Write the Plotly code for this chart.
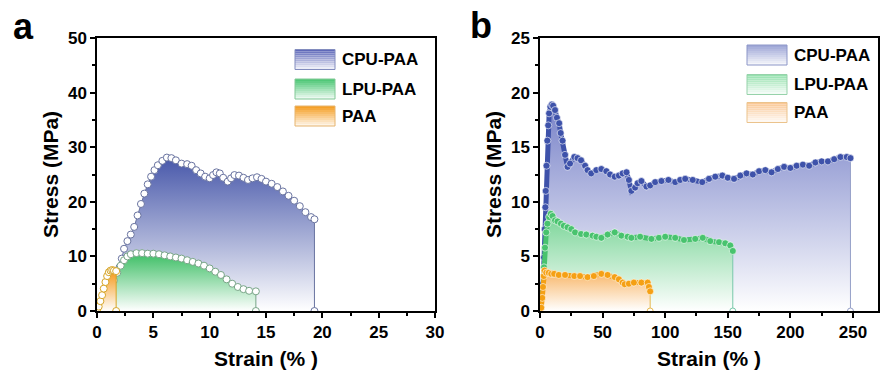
import plotly.graph_objects as go

W, H = 881, 374

names = ["CPU-PAA", "LPU-PAA", "PAA"]

# ---------------- Panel a data (strain %, stress MPa) ----------------
a_cpu_x = [0, 0.4, 0.8, 1.2, 1.6, 2.0, 2.2, 2.4, 2.7, 3.0, 3.3, 3.6, 3.9, 4.2, 4.5, 4.8, 5.1, 5.4, 5.8, 6.2,
           6.6, 7.0, 7.5, 8.0, 8.4, 8.8, 9.2, 9.6, 10.0, 10.3, 10.6, 10.9, 11.2, 11.6, 11.9, 12.2, 12.6, 13.0,
           13.4, 13.8, 14.2, 14.6, 15.0, 15.5, 16.0, 16.5, 17.0, 17.5, 18.0, 18.5, 19.0, 19.3, 19.3]
a_cpu_y = [0, 1.2, 2.8, 4.6, 6.5, 8.0, 9.6, 11.4, 12.8, 14.0, 15.4, 17.5, 19.6, 21.5, 23.2, 24.6, 25.8, 26.7, 27.5, 28.1,
           28.0, 27.6, 27.0, 26.9, 26.6, 25.8, 25.2, 24.6, 24.3, 24.9, 25.4, 25.2, 24.4, 23.7, 24.3, 24.9, 24.8, 24.4,
           24.0, 24.3, 24.5, 24.2, 23.7, 23.3, 22.7, 21.9, 21.1, 20.2, 19.2, 18.1, 17.2, 16.8, 0]

a_lpu_x = [0, 0.5, 1.0, 1.5, 1.8, 2.1, 2.4, 2.7, 3.0, 3.5, 4.0, 4.5, 5.0, 5.5, 6.0, 6.5, 7.0, 7.5, 8.0, 8.5,
           9.0, 9.5, 10.0, 10.5, 11.0, 11.5, 12.0, 12.5, 13.0, 13.5, 14.1, 14.1]
a_lpu_y = [0, 1.5, 3.5, 5.6, 7.0, 8.3, 9.3, 10.0, 10.4, 10.6, 10.6, 10.5, 10.5, 10.4, 10.2, 10.0, 9.8, 9.6, 9.3, 9.0,
           8.7, 8.3, 7.8, 7.2, 6.6, 5.8, 5.0, 4.4, 4.0, 3.7, 3.6, 0]

a_paa_x = [0, 0.15, 0.3, 0.45, 0.6, 0.75, 0.9, 1.05, 1.2, 1.35, 1.5, 1.7, 1.7]
a_paa_y = [0, 0.8, 1.8, 2.9, 4.1, 5.3, 6.4, 7.1, 7.4, 7.5, 7.4, 7.3, 0]

# ---------------- Panel b data ----------------
b_cpu_x = [0, 1.5, 2.5, 3.2, 3.8, 4.3, 4.6, 5.2, 5.9, 6.6, 7.3, 8.3, 9.5, 10.5, 12, 13.5, 15.3, 16.5, 18, 20,
           22, 24, 27.4, 30, 32.8, 36, 38, 40.9, 45, 49, 53, 56, 59.7, 63, 66, 69.1, 71, 73, 76, 78, 81, 85, 88,
           92, 97, 102.6, 108, 112, 116, 122, 129.6, 135, 140, 145.7, 150, 155, 160, 165, 170, 175, 180, 185,
           190, 195, 200, 205, 210, 215, 220, 225, 230, 235, 240, 245, 248, 248]
b_cpu_y = [0, 0.5, 2.5, 4.9, 7.5, 9.5, 11.0, 13.3, 15.6, 17.0, 18.1, 18.7, 18.9, 18.8, 18.4, 17.7, 17.2, 16.3, 15.6, 14.3,
           13.2, 13.5, 14.1, 14.0, 13.8, 13.3, 12.9, 12.6, 12.9, 13.0, 12.8, 12.5, 12.3, 12.4, 12.6, 12.7, 12.0, 11.0, 11.3, 11.7, 11.9, 11.4, 11.5,
           11.8, 11.9, 12.0, 11.8, 12.0, 12.1, 12.0, 11.8, 12.1, 12.3, 12.4, 12.2, 12.1, 12.4, 12.6, 12.5, 12.8, 12.9, 12.7,
           13.0, 13.2, 13.1, 13.3, 13.4, 13.3, 13.6, 13.7, 13.7, 13.9, 14.1, 14.1, 14.0, 0]

b_lpu_x = [0, 1.5, 2.5, 3.2, 4, 5, 6, 7.3, 8.6, 10, 12, 14, 16.7, 19, 22, 25, 28, 32.8, 37, 42, 45, 49, 54, 59.7,
           65, 70, 73, 80, 89, 95, 100, 108, 115, 124, 130, 136, 143, 148, 152, 154, 154]
b_lpu_y = [0, 0.5, 2.2, 4.0, 5.8, 7.2, 8.0, 8.6, 8.9, 8.7, 8.3, 8.2, 8.0, 7.8, 7.66, 7.5, 7.2, 7.05, 7.0, 6.9, 6.8, 6.7, 7.0, 7.2,
           6.9, 6.8, 6.7, 6.8, 6.6, 6.7, 6.8, 6.7, 6.5, 6.6, 6.7, 6.4, 6.3, 6.2, 6.0, 5.5, 0]

b_paa_x = [0, 1, 1.8, 2.4, 3.0, 3.6, 5, 7, 9, 11.3, 15, 20, 27.4, 32, 38, 43, 49, 54, 59.7, 63, 66, 67.7, 71, 75,
           81, 86, 87, 88, 88]
b_paa_y = [0, 0.3, 1.2, 2.2, 3.2, 3.7, 3.5, 3.5, 3.4, 3.4, 3.3, 3.3, 3.2, 3.2, 3.1, 3.2, 3.4, 3.3, 3.1, 2.9, 2.6, 2.45, 2.5, 2.6,
           2.6, 2.6, 2.2, 1.8, 0]

x_ticks_a = [0, 5, 10, 15, 20, 25, 30]
y_ticks_a = [0, 10, 20, 30, 40, 50]
x_ticks_b = [0, 50, 100, 150, 200, 250]
y_ticks_b = [0, 5, 10, 15, 20, 25]

# ---------------- styles ----------------
FONT = "Liberation Sans, Arial, sans-serif"
fill_top_a = ["rgb(72,88,170)", "rgb(60,190,100)", "rgb(245,150,20)"]
fill_top_b = ["rgb(120,130,200)", "rgb(120,212,150)", "rgb(248,180,100)"]
mk_line_a = ["rgb(105,115,160)", "rgb(120,165,135)", "rgb(215,165,40)"]
band_b = ["rgb(62,82,170)", "rgb(72,195,110)", "rgb(245,160,20)"]
drop_b = ["rgb(150,160,200)", "rgb(120,200,170)", "rgb(230,185,80)"]

fig = go.Figure()

series_a = [(a_cpu_x, a_cpu_y), (a_lpu_x, a_lpu_y), (a_paa_x, a_paa_y)]
series_b = [(b_cpu_x, b_cpu_y), (b_lpu_x, b_lpu_y), (b_paa_x, b_paa_y)]

for i, (xs, ys) in enumerate(series_a):
    fig.add_trace(go.Scatter(
        x=xs, y=ys, name=names[i], mode="lines+markers", fill="tozeroy",
        fillgradient=dict(type="vertical", colorscale=[[0, "rgba(255,255,255,1)"], [1, fill_top_a[i]]]),
        line=dict(color=mk_line_a[i], width=1),
        marker=dict(symbol="circle", size=7, color="white", line=dict(color=mk_line_a[i], width=1)),
        showlegend=False, xaxis="x", yaxis="y"))

for i, (xs, ys) in enumerate(series_b):
    fig.add_trace(go.Scatter(
        x=xs, y=ys, name=names[i], mode="lines", fill="tozeroy",
        fillgradient=dict(type="vertical", colorscale=[[0, "rgba(255,255,255,1)"], [1, fill_top_b[i]]]),
        line=dict(color=drop_b[i], width=1),
        showlegend=False, xaxis="x2", yaxis="y2"))
    fig.add_trace(go.Scatter(
        x=xs[:-1], y=ys[:-1], name=names[i], mode="lines+markers",
        line=dict(color=band_b[i], width=5),
        marker=dict(symbol="circle", size=7, color=band_b[i], line=dict(color="rgba(255,255,255,0.6)", width=1)),
        showlegend=False, xaxis="x2", yaxis="y2"))
    # end marker on the axis
    fig.add_trace(go.Scatter(
        x=[xs[-1]], y=[ys[-1]], mode="markers", showlegend=False, hoverinfo="skip",
        marker=dict(symbol="circle", size=6, color="white", line=dict(color=drop_b[i], width=1)),
        xaxis="x2", yaxis="y2"))


def px_x(p):
    return p / W


def px_y(p):
    return 1 - p / H


axis_common = dict(
    showline=True, linecolor="black", linewidth=1.5, mirror=True,
    ticks="outside", ticklen=5, tickwidth=1.5, tickcolor="black",
    showgrid=False, zeroline=False, automargin=False,
    tickfont=dict(family=FONT, size=17, color="black", weight="bold"),
)
title_font = dict(family=FONT, size=21, color="black", weight="bold")

ydom = [px_y(311), px_y(38)]

fig.update_layout(
    template="none",
    width=W, height=H, margin=dict(l=0, r=0, t=0, b=0, autoexpand=False),
    paper_bgcolor="white", plot_bgcolor="white",
    xaxis=dict(domain=[px_x(97), px_x(435)], range=[0, 30], tickvals=x_ticks_a,
               minor=dict(ticks="outside", ticklen=3, dtick=2.5, tickcolor="black", tickwidth=1.5),
               title=dict(text="Strain (% )", font=title_font, standoff=10), anchor="y", **axis_common),
    yaxis=dict(domain=ydom, range=[0, 50], tickvals=y_ticks_a,
               minor=dict(ticks="outside", ticklen=3, dtick=5, tickcolor="black", tickwidth=1.5),
               title=dict(text="Stress (MPa)", font=title_font, standoff=4), anchor="x", **axis_common),
    xaxis2=dict(domain=[px_x(540), px_x(878)], range=[0, 270], tickvals=x_ticks_b,
                minor=dict(ticks="outside", ticklen=3, dtick=25, tickcolor="black", tickwidth=1.5),
                title=dict(text="Strain (% )", font=title_font, standoff=10), anchor="y2", **axis_common),
    yaxis2=dict(domain=ydom, range=[0, 25], tickvals=y_ticks_b,
                minor=dict(ticks="outside", ticklen=3, dtick=2.5, tickcolor="black", tickwidth=1.5),
                title=dict(text="Stress (MPa)", font=title_font, standoff=4), anchor="x2", **axis_common),
)

# panel labels
fig.add_annotation(text="<b>a</b>", x=px_x(23), y=px_y(27), xref="paper", yref="paper",
                   xanchor="center", yanchor="middle",
                   showarrow=False, font=dict(family=FONT, size=36, color="black"))
fig.add_annotation(text="<b>b</b>", x=px_x(481), y=px_y(25), xref="paper", yref="paper",
                   xanchor="center", yanchor="middle",
                   showarrow=False, font=dict(family=FONT, size=36, color="black"))


# custom legends with gradient swatches
def hex_mix(c, t):
    r, g, b = [int(v) for v in c[c.index("(") + 1:-1].split(",")]
    return "rgb(%d,%d,%d)" % (round(r * t + 255 * (1 - t)), round(g * t + 255 * (1 - t)), round(b * t + 255 * (1 - t)))


def add_legend(x0, ycenters, tops, borders):
    for i, nm in enumerate(names):
        yc = ycenters[i]
        top, bot = yc - 10, yc + 10
        n = 10
        for k in range(n):
            t = 1 - k / (n - 1)
            fig.add_shape(type="rect", xref="paper", yref="paper",
                          x0=px_x(x0), x1=px_x(x0 + 40),
                          y0=px_y(top + k * 2), y1=px_y(top + (k + 1) * 2),
                          fillcolor=hex_mix(tops[i], 0.12 + 0.88 * t), line=dict(width=0), layer="above")
        fig.add_shape(type="rect", xref="paper", yref="paper",
                      x0=px_x(x0), x1=px_x(x0 + 40), y0=px_y(top), y1=px_y(bot),
                      fillcolor="rgba(0,0,0,0)", line=dict(width=1, color=borders[i]), layer="above")
        fig.add_annotation(text="<b>%s</b>" % nm, x=px_x(x0 + 45), y=px_y(yc), xref="paper", yref="paper",
                           xanchor="left", yanchor="middle", showarrow=False,
                           font=dict(family=FONT, size=17, color="black"))


add_legend(295, [59.5, 89, 116], ["rgb(95,105,185)", "rgb(80,200,120)", "rgb(245,160,40)"],
           ["rgb(130,140,190)", "rgb(130,200,150)", "rgb(230,180,110)"])
add_legend(747, [55, 84.5, 112.5], ["rgb(160,168,215)", "rgb(150,225,175)", "rgb(250,200,150)"],
           ["rgb(140,150,200)", "rgb(150,210,170)", "rgb(235,195,140)"])

fig.write_html("out.html")
